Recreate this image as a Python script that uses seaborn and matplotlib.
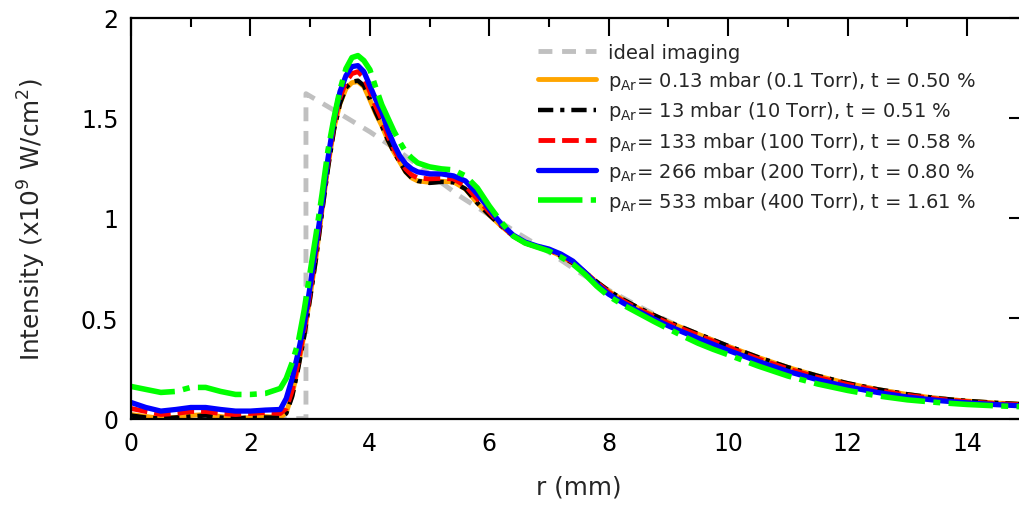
import numpy as np
import pandas as pd
import matplotlib
matplotlib.use("Agg")
import matplotlib.pyplot as plt
import seaborn as sns

r = [0, 0.25, 0.5, 0.75, 1.0, 1.25, 1.5, 1.75, 2.0, 2.25, 2.5,
     2.6, 2.7, 2.8, 2.9, 3.0, 3.1, 3.2, 3.3, 3.4, 3.5, 3.6, 3.7, 3.8, 3.9, 4.0,
     4.1, 4.2, 4.3, 4.4, 4.5, 4.6, 4.7, 4.8,
     5.0, 5.2, 5.4, 5.6, 5.8, 6.0, 6.2, 6.4, 6.6, 6.8, 7.0, 7.2, 7.4, 7.6, 7.8, 8.0,
     8.25, 8.5, 8.75, 9.0, 9.25, 9.5, 9.75, 10.0,
     10.5, 11.0, 11.5, 12.0, 12.5, 13.0, 13.5, 14.0, 14.5, 15.0]

# intensity (x1e9 W/cm^2)
i_013 = [0.02, 0.01, 0.0, 0.005, 0.015, 0.02, 0.01, 0.0, 0.005, 0.01, 0.005,
         0.03, 0.12, 0.26, 0.42, 0.61, 0.81, 1.04, 1.26, 1.45, 1.57, 1.645, 1.675, 1.68,
         1.655, 1.59, 1.52, 1.46, 1.39, 1.33, 1.28, 1.23, 1.2, 1.185,
         1.178, 1.183, 1.18, 1.145, 1.075, 1.015, 0.96, 0.91, 0.875, 0.855, 0.84, 0.81,
         0.775, 0.73, 0.68, 0.635,
         0.59, 0.55, 0.515, 0.48, 0.45, 0.42, 0.39, 0.36,
         0.305, 0.255, 0.212, 0.175, 0.145, 0.12, 0.10, 0.087, 0.077, 0.07]
i_13 = [0.015, 0.005, 0.0, 0.005, 0.01, 0.015, 0.005, 0.0, 0.005, 0.005, 0.005,
        0.025, 0.11, 0.25, 0.41, 0.6, 0.8, 1.03, 1.25, 1.44, 1.57, 1.65, 1.68, 1.685,
        1.66, 1.595, 1.525, 1.46, 1.39, 1.33, 1.28, 1.23, 1.2, 1.185,
        1.175, 1.18, 1.178, 1.145, 1.075, 1.015, 0.96, 0.91, 0.875, 0.855, 0.84, 0.81,
        0.775, 0.73, 0.682, 0.637,
        0.592, 0.552, 0.517, 0.482, 0.452, 0.422, 0.392, 0.362,
        0.306, 0.256, 0.213, 0.176, 0.146, 0.121, 0.101, 0.088, 0.078, 0.07]
i_133 = [0.05, 0.035, 0.02, 0.025, 0.035, 0.035, 0.025, 0.02, 0.025, 0.03, 0.025,
         0.05, 0.14, 0.28, 0.44, 0.63, 0.84, 1.06, 1.28, 1.47, 1.6, 1.68, 1.72, 1.73,
         1.7, 1.63, 1.555, 1.49, 1.41, 1.345, 1.29, 1.245, 1.215, 1.2,
         1.195, 1.198, 1.195, 1.16, 1.095, 1.03, 0.965, 0.912, 0.877, 0.855, 0.84, 0.815,
         0.78, 0.73, 0.678, 0.63,
         0.585, 0.545, 0.51, 0.475, 0.445, 0.415, 0.385, 0.355,
         0.298, 0.248, 0.205, 0.17, 0.14, 0.116, 0.097, 0.084, 0.074, 0.067]
i_266 = [0.08, 0.055, 0.037, 0.045, 0.055, 0.055, 0.045, 0.037, 0.037, 0.042, 0.045,
         0.1, 0.2, 0.33, 0.47, 0.66, 0.87, 1.07, 1.3, 1.49, 1.63, 1.71, 1.755, 1.76,
         1.73, 1.66, 1.59, 1.53, 1.44, 1.37, 1.31, 1.27, 1.245, 1.23,
         1.22, 1.22, 1.21, 1.185, 1.12, 1.045, 0.97, 0.915, 0.88, 0.86, 0.845, 0.82,
         0.785, 0.73, 0.67, 0.62,
         0.575, 0.535, 0.497, 0.462, 0.43, 0.4, 0.37, 0.34,
         0.285, 0.235, 0.193, 0.158, 0.13, 0.107, 0.09, 0.078, 0.069, 0.062]
i_533 = [0.16, 0.145, 0.13, 0.135, 0.155, 0.155, 0.135, 0.12, 0.12, 0.125, 0.15,
         0.2, 0.28, 0.38, 0.54, 0.73, 0.92, 1.12, 1.34, 1.5, 1.64, 1.745, 1.8, 1.81,
         1.785, 1.74, 1.65, 1.565, 1.5, 1.435, 1.38, 1.33, 1.3, 1.275,
         1.255, 1.245, 1.24, 1.21, 1.15, 1.06, 0.98, 0.91, 0.875, 0.855, 0.835, 0.805,
         0.77, 0.72, 0.66, 0.61,
         0.565, 0.525, 0.485, 0.447, 0.41, 0.375, 0.345, 0.318,
         0.262, 0.212, 0.172, 0.14, 0.113, 0.093, 0.08, 0.07, 0.063, 0.058]

r_ideal = [0, 2.93, 2.93, 3.5, 4.0, 4.5, 5.0, 5.5, 6.0, 6.5, 7.0, 7.5, 8.0, 8.5, 9.0,
           9.5, 10, 10.5, 11, 12, 13, 14, 15]
i_ideal = [0, 0, 1.62, 1.52, 1.43, 1.33, 1.22, 1.11, 1.015, 0.92, 0.83, 0.73, 0.64,
           0.56, 0.485, 0.42, 0.36, 0.30, 0.25, 0.17, 0.12, 0.085, 0.068]

labels = [
    "ideal imaging",
    "p$_\\mathregular{Ar}$= 0.13 mbar (0.1 Torr), t = 0.50 %",
    "p$_\\mathregular{Ar}$= 13 mbar (10 Torr), t = 0.51 %",
    "p$_\\mathregular{Ar}$= 133 mbar (100 Torr), t = 0.58 %",
    "p$_\\mathregular{Ar}$= 266 mbar (200 Torr), t = 0.80 %",
    "p$_\\mathregular{Ar}$= 533 mbar (400 Torr), t = 1.61 %",
]

sns.set_theme(style="white")
plt.rcParams["font.family"] = ["DejaVu Sans"]
plt.rcParams["lines.scale_dashes"] = False

fig = plt.figure(figsize=(10.19, 5.06), dpi=100)
ax = fig.add_axes([131 / 1019, 86.5 / 506, 895.7 / 1019, 401 / 506])

styles = [
    (r_ideal, i_ideal, "#c0c0c0", 3.5, (0, (10, 7))),
    (r, i_013, "#ffa500", 3.5, "-"),
    (r, i_13, "black", 3.2, (0, (11, 5, 3, 5))),
    (r, i_133, "#ff0000", 3.5, (0, (12, 5))),
    (r, i_266, "#0000ff", 3.8, "-"),
    (r, i_533, "#00ff00", 4.0, (0, (32, 6, 5, 6))),
]
for (x, y, c, lw, ls), lab in zip(styles, labels):
    df = pd.DataFrame({"r": x, "I": y})
    sns.lineplot(data=df, x="r", y="I", ax=ax, color=c, lw=lw, linestyle=ls,
                 label=lab, estimator=None, sort=False)

ax.set_xlim(0, 15)
ax.set_ylim(0, 2)
ax.set_xticks(range(0, 15, 2))
ax.set_xticks(range(1, 15, 2), minor=True)
ax.set_yticks([0, 0.5, 1, 1.5, 2])
ax.set_yticklabels(["0", "0.5", "1", "1.5", "2"])
ax.tick_params(which="both", direction="in", top=True, right=True, width=1.5,
               labelsize=17, colors="black")
ax.tick_params(which="major", length=13, pad=9)
ax.tick_params(which="minor", length=6.5)
for s in ax.spines.values():
    s.set_linewidth(1.6)
    s.set_color("black")

ax.set_xlabel("r (mm)", fontsize=17.8)
ax.set_ylabel("Intensity (x10$^9$ W/cm$^2$)", fontsize=17.8)
ax.xaxis.set_label_coords(0.5, -0.14)
ax.yaxis.set_label_coords(-0.093, 0.5)

ax.legend(loc="upper left", bbox_to_anchor=(538 / 1019, 1 - 44 / 506),
          bbox_transform=fig.transFigure, frameon=False, fontsize=14,
          borderpad=0, borderaxespad=0, handlelength=3.0, handletextpad=0.6,
          labelspacing=0.37)

fig.savefig("out.png", dpi=100)
